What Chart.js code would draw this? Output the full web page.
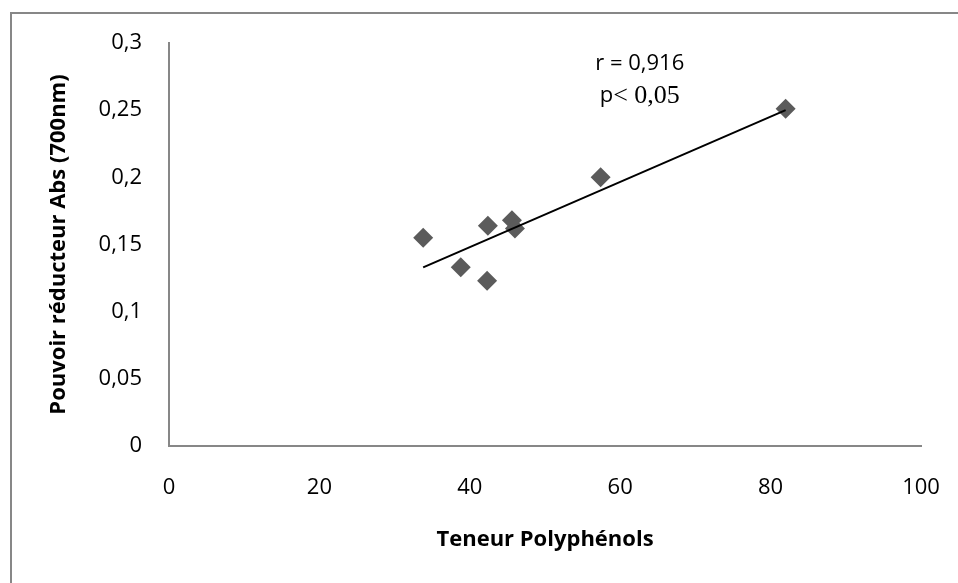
<!DOCTYPE html>
<html>
<head>
<meta charset="utf-8">
<script src="https://cdn.jsdelivr.net/npm/chart.js@4/dist/chart.umd.min.js"></script>
<style>
  html, body { margin: 0; padding: 0; background: #fff; }
  #wrap { position: relative; width: 958px; height: 583px; overflow: hidden; }
  #frame { position: absolute; left: 10px; top: 12px; width: 1000px; height: 700px;
           border-left: 2px solid #878787; border-top: 2px solid #878787; }
  canvas { position: absolute; left: 0; top: 0; }
</style>
</head>
<body>
<div id="wrap">
  <div id="frame"></div>
  <canvas id="chart" width="958" height="583"></canvas>
</div>
<script>
// polyphenol content vs reducing power
const polyphenols = [33.8, 38.8, 42.4, 42.3, 45.6, 46.0, 57.4, 82.0];
const absorbance  = [0.155, 0.133, 0.164, 0.123, 0.168, 0.162, 0.200, 0.251];
const trendX = [33.8, 82.0];
const trendY = [0.133, 0.250];
const xTicks = ['0', '20', '40', '60', '80', '100'];
const yTicks = ['0', '0,05', '0,1', '0,15', '0,2', '0,25', '0,3'];
const statR = 'r = 0,916';
const statP = ['p', '< 0,05'];

const FONT = '"Open Sans", sans-serif';
const SERIF = '"Liberation Serif", serif';

const annotation = {
    id: 'annotation',
    afterDraw(chart) {
        const ctx = chart.ctx;
        const x = chart.scales.x, y = chart.scales.y;
        ctx.save();
        ctx.fillStyle = '#000';
        ctx.textBaseline = 'middle';
        ctx.textAlign = 'center';
        ctx.font = '22px ' + FONT;
        const cx = x.getPixelForValue(62.6);
        ctx.fillText(statR, cx, y.getPixelForValue(0.2845));
        // second line: sans "p" then serif part
        ctx.textAlign = 'left';
        const py = y.getPixelForValue(0.2605);
        ctx.font = '22px ' + FONT;
        const w1 = ctx.measureText(statP[0]).width;
        ctx.font = '26px ' + SERIF;
        const w2 = ctx.measureText(statP[1]).width;
        const sx = cx - (w1 + w2) / 2;
        ctx.font = '22px ' + FONT;
        ctx.fillText(statP[0], sx, py);
        ctx.font = '26px ' + SERIF;
        ctx.fillText(statP[1], sx + w1, py);
        ctx.restore();
    }
};

new Chart(document.getElementById('chart'), {
    type: 'scatter',
    data: {
        datasets: [{
            data: polyphenols.map((v, i) => ({ x: v, y: absorbance[i] })),
            backgroundColor: '#5b5b5b',
            borderWidth: 0,
            pointStyle: 'rectRot',
            pointRadius: 10,
            order: 1
        }, {
            type: 'line',
            data: trendX.map((v, i) => ({ x: v, y: trendY[i] })),
            borderColor: '#000',
            borderWidth: 2,
            pointRadius: 0,
            fill: false,
            order: 0
        }]
    },
    plugins: [annotation],
    options: {
        responsive: false,
        animation: false,
        events: [],
        layout: { padding: { left: 0, top: 43, right: 37, bottom: 0 } },
        plugins: { legend: { display: false }, tooltip: { enabled: false } },
        scales: {
            x: {
                type: 'linear', min: 0, max: 100,
                afterFit(s) { s.height = 137; s.paddingLeft = 0; s.paddingRight = 0; },
                grid: { display: false, drawTicks: false },
                border: { display: true, color: '#878787', width: 2 },
                ticks: {
                    stepSize: 20, padding: 29, color: '#000',
                    font: { family: FONT, size: 22 },
                    callback: (v, i) => xTicks[i]
                },
                title: {
                    display: true, text: 'Teneur Polyphénols', color: '#000',
                    font: { family: FONT, size: 22, weight: 'bold' },
                    padding: { top: 0, bottom: 30 }
                }
            },
            y: {
                type: 'linear', min: 0, max: 0.3,
                afterFit(s) { s.width = 169; s.paddingTop = 0; s.paddingBottom = 0; },
                grid: { display: false, drawTicks: false },
                border: { display: true, color: '#878787', width: 2 },
                ticks: {
                    stepSize: 0.05, padding: 27, color: '#000',
                    font: { family: FONT, size: 22 },
                    callback: (v, i) => yTicks[i]
                },
                title: {
                    display: true, text: 'Pouvoir réducteur Abs (700nm)', color: '#000',
                    font: { family: FONT, size: 22, weight: 'bold' },
                    padding: { top: 46, bottom: 0 }
                }
            }
        }
    }
});
</script>
</body>
</html>
